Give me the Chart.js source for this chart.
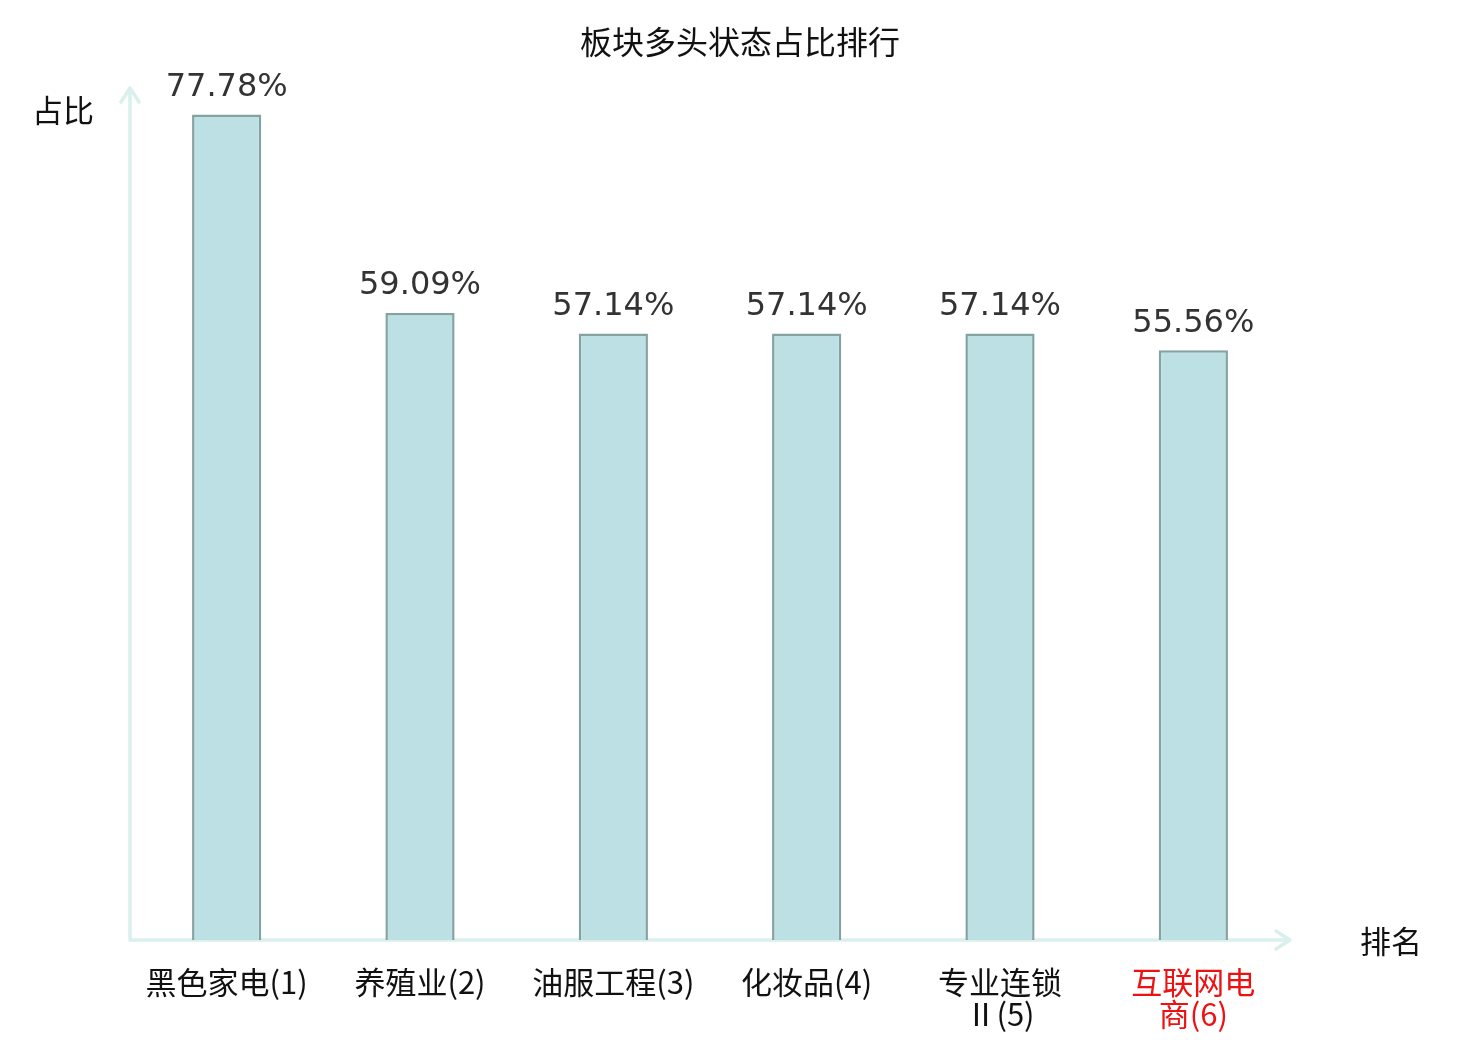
<!DOCTYPE html>
<html>
<head>
<meta charset="utf-8">
<script src="https://cdn.jsdelivr.net/npm/chart.js@4.4.1/dist/chart.umd.min.js"></script>
<style>
html,body{margin:0;padding:0;background:#fff;}
#wrap{width:1480px;height:1040px;position:relative;}
</style>
</head>
<body>
<div id="wrap"><canvas id="c" width="1480" height="1040"></canvas></div>
<script>
const categories = [["黑色家电(1)"], ["养殖业(2)"], ["油服工程(3)"], ["化妆品(4)"], ["专业连锁", "Ⅱ(5)"], ["互联网电", "商(6)"]];
const values = [77.78, 59.09, 57.14, 57.14, 57.14, 55.56];
const labelColors = ["#111111", "#111111", "#111111", "#111111", "#111111", "#ee1111"];
const titleText = "板块多头状态占比排行";
const yAxisName = "占比";
const xAxisName = "排名";

const CJK = "'Noto Sans CJK SC', 'Noto Sans', sans-serif";
const AXIS_COLOR = "#daf0ed";

const overlay = {
  id: 'overlay',
  beforeDatasetsDraw(chart) {
    const ctx = chart.ctx;
    const a = chart.chartArea;
    ctx.save();
    ctx.strokeStyle = AXIS_COLOR;
    ctx.lineWidth = 3.5;
    ctx.lineCap = 'round';
    ctx.lineJoin = 'round';
    const x0 = a.left, y0 = a.bottom, yTop = a.top - 3, xEnd = a.right;
    ctx.beginPath();
    ctx.moveTo(x0, y0); ctx.lineTo(x0, yTop);
    ctx.moveTo(x0 - 9, yTop + 14); ctx.lineTo(x0, yTop); ctx.lineTo(x0 + 9, yTop + 14);
    ctx.moveTo(x0, y0); ctx.lineTo(xEnd, y0);
    ctx.moveTo(xEnd - 14, y0 - 9); ctx.lineTo(xEnd, y0); ctx.lineTo(xEnd - 14, y0 + 9);
    ctx.stroke();
    ctx.restore();
  },
  afterDatasetsDraw(chart) {
    const ctx = chart.ctx;
    const a = chart.chartArea;
    const meta = chart.getDatasetMeta(0);
    ctx.save();
    ctx.fillStyle = '#333333';
    ctx.font = "32px 'DejaVu Sans', sans-serif";
    ctx.textAlign = 'center';
    ctx.textBaseline = 'middle';
    meta.data.forEach((bar, i) => {
      ctx.fillText(values[i].toFixed(2) + '%', bar.x, bar.y - 27);
    });
    ctx.fillStyle = '#111111';
    ctx.font = "32px " + CJK;
    ctx.fillText(titleText, chart.width / 2, 42);
    ctx.font = "31px " + CJK;
    ctx.fillText(yAxisName, 63, 110);
    ctx.textAlign = 'left';
    ctx.fillText(xAxisName, a.right + 70, a.bottom + 1);
    ctx.restore();
  }
};

new Chart(document.getElementById('c'), {
  type: 'bar',
  data: {
    labels: categories,
    datasets: [{
      data: values,
      backgroundColor: '#bce0e3',
      borderColor: '#85a2a2',
      borderWidth: 2.5,
      barPercentage: 0.358,
      categoryPercentage: 1.0
    }]
  },
  options: {
    responsive: false,
    animation: false,
    devicePixelRatio: 1,
    layout: { padding: { left: 130, right: 190, top: 91, bottom: 0 } },
    plugins: { legend: { display: false }, tooltip: { enabled: false }, title: { display: false } },
    scales: {
      x: {
        grid: { display: false, drawTicks: false },
        border: { display: false },
        ticks: {
          color: (c) => labelColors[c.index],
          font: { family: CJK, size: 31, lineHeight: 1.03 },
          padding: 26,
          maxRotation: 0,
          autoSkip: false
        },
        afterFit(scale) { scale.height = 100; }
      },
      y: {
        display: false,
        min: 0,
        max: 80
      }
    }
  },
  plugins: [overlay]
});
</script>
</body>
</html>
